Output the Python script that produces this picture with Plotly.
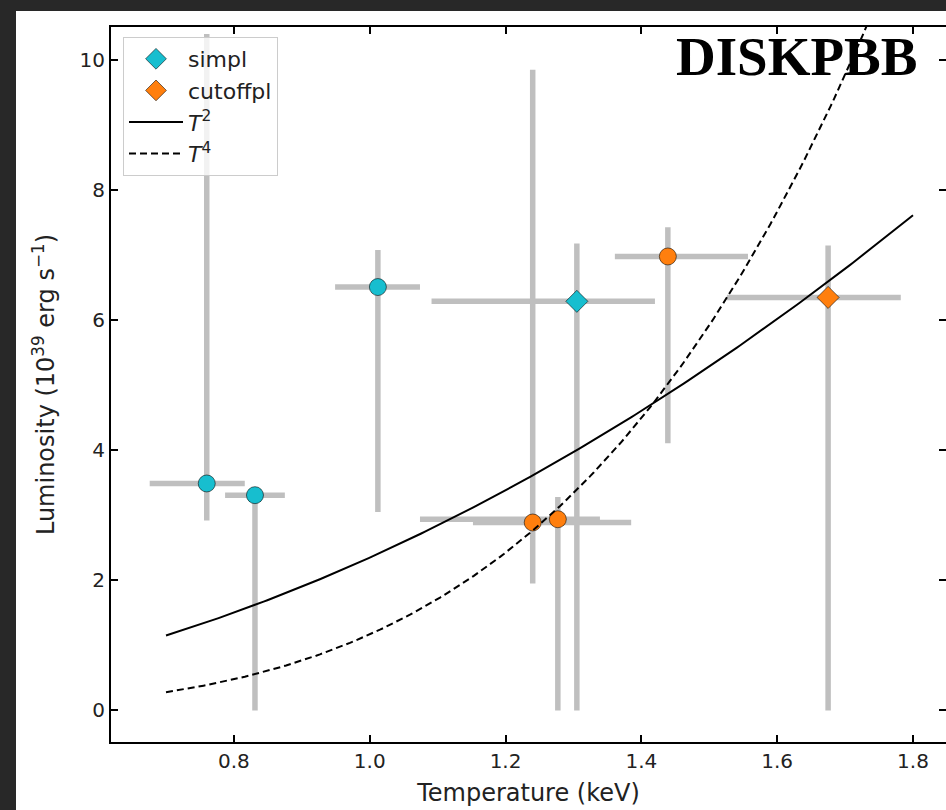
import numpy as np
import plotly.graph_objects as go

# ---------------- data ----------------
simpl_T = [0.760, 0.831, 1.012, 1.305]
simpl_T_lo = [0.676, 0.787, 0.949, 1.091]
simpl_T_hi = [0.816, 0.875, 1.074, 1.420]
simpl_L = [3.49, 3.31, 6.51, 6.29]
simpl_L_lo = [2.92, 0.0, 3.05, 0.0]
simpl_L_hi = [10.4, 3.36, 7.08, 7.18]
simpl_sym = ["circle", "circle", "circle", "diamond"]

cut_T = [1.240, 1.277, 1.439, 1.675]
cut_T_lo = [1.152, 1.074, 1.361, 1.526]
cut_T_hi = [1.385, 1.339, 1.557, 1.782]
cut_L = [2.89, 2.94, 6.98, 6.35]
cut_L_lo = [1.95, 0.0, 4.11, 0.0]
cut_L_hi = [9.85, 3.28, 7.43, 7.15]
cut_sym = ["circle", "circle", "circle", "diamond"]

# power-law model normalisations (L = A * T^n)
model_T_range = [0.7, 1.8]
norm_T2 = 2.35
norm_T4 = 1.17

x_ticks = [0.8, 1.0, 1.2, 1.4, 1.6, 1.8]
y_ticks = [0, 2, 4, 6, 8, 10]
x_range = [0.619, 1.8486]
y_range = [-0.485, 10.508]

# ---------------- styling ----------------
W, H = 946, 810
ML, MR, MT, MB = 111, 0, 27, 68
PW = W - ML - MR
PH = H - MT - MB
CYAN = "#17becf"
ORANGE = "#ff7f0e"
ERR = "#bfbfbf"
EDGE = "rgba(0,0,0,0.55)"
FONT = "DejaVu Sans"

fig = go.Figure()


def err_trace(T, lo_T, hi_T, L, lo_L, hi_L):
    return go.Scatter(
        x=T, y=L, mode="markers",
        marker=dict(size=1, color="rgba(0,0,0,0)"),
        error_x=dict(type="data", symmetric=False,
                     array=[h - t for h, t in zip(hi_T, T)],
                     arrayminus=[t - l for l, t in zip(lo_T, T)],
                     color=ERR, thickness=5.5, width=0),
        error_y=dict(type="data", symmetric=False,
                     array=[h - v for h, v in zip(hi_L, L)],
                     arrayminus=[v - l for l, v in zip(lo_L, L)],
                     color=ERR, thickness=5.5, width=0),
        showlegend=False, hoverinfo="skip",
    )


fig.add_trace(err_trace(simpl_T, simpl_T_lo, simpl_T_hi, simpl_L, simpl_L_lo, simpl_L_hi))
fig.add_trace(err_trace(cut_T, cut_T_lo, cut_T_hi, cut_L, cut_L_lo, cut_L_hi))


def marker_traces(T, L, syms, color, name):
    out = []
    for sym, legend in (("circle", False), ("diamond", True)):
        idx = [i for i, s in enumerate(syms) if s == sym]
        out.append(go.Scatter(
            x=[T[i] for i in idx], y=[L[i] for i in idx], mode="markers",
            marker=dict(symbol=sym, size=17, color=color,
                        line=dict(color=EDGE, width=1)),
            name=name, showlegend=legend,
        ))
    return out


for tr in marker_traces(simpl_T, simpl_L, simpl_sym, CYAN, "simpl"):
    fig.add_trace(tr)
for tr in marker_traces(cut_T, cut_L, cut_sym, ORANGE, "cutoffpl"):
    fig.add_trace(tr)

Tm = np.linspace(model_T_range[0], model_T_range[1], 200)
fig.add_trace(go.Scatter(x=Tm, y=norm_T2 * Tm ** 2, mode="lines",
                         line=dict(color="black", width=2),
                         name="<i>T</i><sup>2</sup>"))
fig.add_trace(go.Scatter(x=Tm, y=norm_T4 * Tm ** 4, mode="lines",
                         line=dict(color="black", width=2, dash="7px,4px"),
                         name="<i>T</i><sup>4</sup>"))
# dummy trace for the right-hand tick axis
fig.add_trace(go.Scatter(x=[None], y=[None], yaxis="y2", showlegend=False,
                         hoverinfo="skip"))

axis_common = dict(
    showgrid=False, zeroline=False, ticks="inside", ticklen=7, tickwidth=1.5,
    tickcolor="black", linecolor="black", linewidth=2,
    tickfont=dict(family=FONT, size=20, color="#222222"),
)

fig.update_layout(
    width=W, height=H,
    margin=dict(l=ML, r=MR, t=MT, b=MB, pad=0),
    paper_bgcolor="white", plot_bgcolor="white",
    font=dict(family=FONT, color="#222222"),
    xaxis=dict(range=x_range, tickvals=x_ticks, tickformat=".1f",
               showline=True, mirror="ticks",
               title=dict(text="Temperature (keV)",
                          font=dict(family=FONT, size=24, color="#222222"),
                          standoff=12),
               **axis_common),
    yaxis=dict(range=y_range, tickvals=y_ticks, showline=True, mirror=False,
               title=dict(text="Luminosity (10<sup>39</sup> erg s<sup>\u22121</sup>)",
                          font=dict(family=FONT, size=24, color="#222222"),
                          standoff=18),
               **axis_common),
    yaxis2=dict(range=y_range, tickvals=y_ticks, overlaying="y", side="right",
                showticklabels=False, showline=False, showgrid=False,
                zeroline=False, ticks="inside", ticklen=7, tickwidth=1.5,
                tickcolor="black"),
    legend=dict(x=(123 - ML) / PW, y=1 - (37 - MT) / PH,
                xanchor="left", yanchor="top",
                bgcolor="rgba(255,255,255,0.8)", bordercolor="#cccccc",
                borderwidth=1, itemwidth=54,
                font=dict(family=FONT, size=22, color="#222222")),
    annotations=[dict(text="<b>DISKPBB</b>", x=(796 - ML) / PW,
                      y=1 - (56 - MT) / PH, xref="paper", yref="paper",
                      showarrow=False, xanchor="center", yanchor="middle",
                      font=dict(family="Liberation Serif", size=55, color="black"))],
)

# dark frame strips at the top and left of the image
def px_x(p):
    return (p - ML) / PW


def px_y(p):
    return 1 - (p - MT) / PH


DARK = "#282828"
fig.add_shape(type="rect", xref="paper", yref="paper", layer="above",
              x0=px_x(0), x1=px_x(16), y0=px_y(H), y1=px_y(0),
              fillcolor=DARK, line=dict(width=0))
fig.add_shape(type="rect", xref="paper", yref="paper", layer="above",
              x0=px_x(0), x1=px_x(W), y0=px_y(11), y1=px_y(0),
              fillcolor=DARK, line=dict(width=0))

fig.write_html("out.html")
